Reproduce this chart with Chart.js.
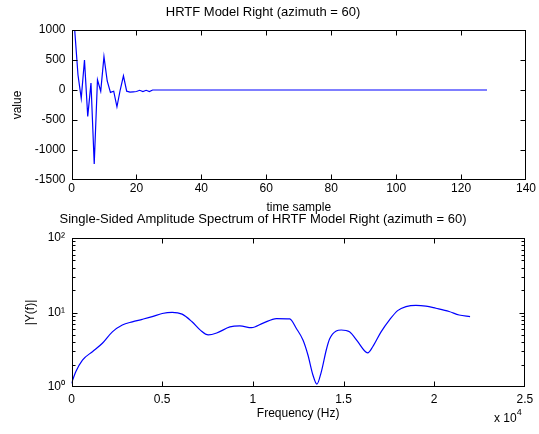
<!DOCTYPE html>
<html><head><meta charset="utf-8">
<script src="https://cdn.jsdelivr.net/npm/chart.js@4/dist/chart.umd.min.js"></script>
<style>
html,body{margin:0;padding:0;background:#fff;}
body{width:539px;height:434px;overflow:hidden;position:relative;font-family:"Liberation Sans",Arial,sans-serif;}
.box{position:absolute;left:0;width:539px;}
#mult{position:absolute;left:494px;top:409px;font-size:12px;color:#000;white-space:nowrap;}
#mult sup{font-size:9px;position:relative;top:-2px;}
</style></head>
<body>
<div class="box" style="top:0;height:217px"><canvas id="c1" width="539" height="217"></canvas></div>
<div class="box" style="top:205px;height:229px"><canvas id="c2" width="539" height="229"></canvas></div>
<div id="mult">x 10<sup>4</sup></div>
<script>
// ---- Top chart: impulse response (time sample 1..128) ----
const impulseValues = [990, 250, -140, 500, -440, 115, -1235, 170, -20, 557,
  150, -40, -20, -280, 0, 237, -20, -35, -30, -25,
  -5, -25, -5, -25, 0, 0, 0, 0, 0, 0,
  0, 0, 0, 0, 0, 0, 0, 0, 0, 0,
  0, 0, 0, 0, 0, 0, 0, 0, 0, 0,
  0, 0, 0, 0, 0, 0, 0, 0, 0, 0,
  0, 0, 0, 0, 0, 0, 0, 0, 0, 0,
  0, 0, 0, 0, 0, 0, 0, 0, 0, 0,
  0, 0, 0, 0, 0, 0, 0, 0, 0, 0,
  0, 0, 0, 0, 0, 0, 0, 0, 0, 0,
  0, 0, 0, 0, 0, 0, 0, 0, 0, 0,
  0, 0, 0, 0, 0, 0, 0, 0, 0, 0,
  0, 0, 0, 0, 0, 0, 0, 0];
const topXTicks = [0, 20, 40, 60, 80, 100, 120, 140];
const topYTicks = [-1500, -1000, -500, 0, 500, 1000];

// ---- Bottom chart: single-sided amplitude spectrum ----
const freqHz = [0, 236, 604, 1154, 1703, 2253, 2802, 3352, 3901, 4451,
  5000, 5549, 6099, 6648, 7104, 7544, 8005, 8736, 9286, 9929,
  10566, 11302, 12033, 12400, 12764, 13038, 13313, 13533, 13775, 14049,
  14231, 14599, 14874, 15330, 15786, 16154, 16335, 16610, 17071, 17527,
  17984, 18445, 18995, 19544, 20093, 20824, 21374, 21978];
const amplitude = [1.12, 1.6, 2.3, 2.98, 3.86, 5.5, 6.8, 7.5, 8.1, 8.8,
  9.7, 10.05, 9.5, 7.5, 5.8, 5.0, 5.3, 6.4, 6.6, 6.25,
  7.2, 8.3, 8.2, 6.1, 4.27, 2.69, 1.45, 1.09, 1.6, 3.14,
  4.4, 5.65, 5.82, 5.5, 4.05, 3.07, 2.88, 3.47, 5.5, 7.9,
  10.6, 12.0, 12.5, 12.2, 11.4, 10.3, 9.25, 8.8];
const bottomXTickValues = [0, 5000, 10000, 15000, 20000, 25000];
const bottomXTickLabels = ['0', '0.5', '1', '1.5', '2', '2.5'];
const bottomYMajor = [1, 10, 100];
const bottomYTickLabels = ['10\u2070', '10\u00B9', '10\u00B2'];

Chart.defaults.font.family = '"Liberation Sans", Arial, sans-serif';
Chart.defaults.font.size = 12;
Chart.defaults.color = '#000';

const boxTicks = {
  id: 'boxTicks',
  afterDraw(chart) {
    const {ctx, chartArea: a, scales} = chart;
    ctx.save();
    ctx.strokeStyle = '#000';
    ctx.lineWidth = 1;
    const L = Math.round(a.left) + 0.5, R = Math.round(a.right) - 0.5;
    const T = Math.round(a.top) + 0.5, B = Math.round(a.bottom) - 0.5;
    ctx.strokeRect(L, T, R - L, B - T);
    ctx.beginPath();
    scales.x.ticks.forEach(t => {
      const px = Math.round(scales.x.getPixelForValue(t.value)) + 0.5;
      if (px <= L + 1 || px >= R - 1) return;
      ctx.moveTo(px, B); ctx.lineTo(px, B - 5);
      ctx.moveTo(px, T); ctx.lineTo(px, T + 5);
    });
    const isLog = scales.y.type === 'logarithmic';
    scales.y.ticks.forEach(t => {
      const py = Math.round(scales.y.getPixelForValue(t.value)) + 0.5;
      if (py <= T + 1 || py >= B - 1) return;
      let len = 5;
      if (isLog && !bottomYMajor.includes(t.value)) len = 3;
      ctx.moveTo(L, py); ctx.lineTo(L + len, py);
      ctx.moveTo(R, py); ctx.lineTo(R - len, py);
    });
    ctx.stroke();
    ctx.restore();
  }
};

new Chart(document.getElementById('c1'), {
  type: 'line',
  data: {
    datasets: [{
      data: impulseValues.map((v, i) => ({x: i + 1, y: v})),
      borderColor: '#0000ff', borderWidth: 1.2, pointRadius: 0, tension: 0, fill: false
    }]
  },
  options: {
    responsive: false, animation: false, devicePixelRatio: 1,
    layout: {padding: {left: 0, right: 13, top: 0, bottom: 0}},
    plugins: {
      legend: {display: false}, tooltip: {enabled: false},
      title: {display: true, text: 'HRTF Model Right (azimuth = 60)', color: '#000',
        font: {size: 13, weight: 'normal'}, padding: {top: 5, bottom: 9.4}}
    },
    scales: {
      x: {
        type: 'linear', min: 0, max: 140,
        afterBuildTicks: s => { s.ticks = topXTicks.map(v => ({value: v})); },
        ticks: {padding: 1.3, maxRotation: 0, autoSkip: false, color: '#000', callback: v => String(v)},
        grid: {display: false, drawTicks: false}, border: {display: false},
        title: {display: true, text: 'time sample', color: '#000', font: {size: 12}, padding: {top: 0, bottom: 1.8}},
        afterFit: s => { s.height = 37; }
      },
      y: {
        type: 'linear', min: -1500, max: 1000,
        afterBuildTicks: s => { s.ticks = topYTicks.map(v => ({value: v})); },
        ticks: {padding: 6, color: '#000', callback: v => String(v)},
        grid: {display: false, drawTicks: false}, border: {display: false},
        title: {display: true, text: 'value', color: '#000', font: {size: 12}, padding: {top: 10.8, bottom: 0}},
        afterFit: s => { s.width = 71.5; }
      }
    }
  },
  plugins: [boxTicks]
});

new Chart(document.getElementById('c2'), {
  type: 'line',
  data: {
    datasets: [{
      data: freqHz.map((f, i) => ({x: f, y: amplitude[i]})),
      borderColor: '#0000ff', borderWidth: 1.2, pointRadius: 0,
      cubicInterpolationMode: 'monotone', fill: false
    }]
  },
  options: {
    responsive: false, animation: false, devicePixelRatio: 1,
    layout: {padding: {left: 0, right: 13, top: 0, bottom: 0}},
    plugins: {
      legend: {display: false}, tooltip: {enabled: false},
      title: {display: true, text: 'Single-Sided Amplitude Spectrum of HRTF Model Right (azimuth = 60)', color: '#000',
        font: {size: 13, weight: 'normal'}, padding: {top: 6.2, bottom: 11.2}}
    },
    scales: {
      x: {
        type: 'linear', min: 0, max: 25000,
        afterBuildTicks: s => { s.ticks = bottomXTickValues.map(v => ({value: v})); },
        ticks: {padding: 5.8, maxRotation: 0, autoSkip: false, color: '#000',
          callback: v => { const i = bottomXTickValues.indexOf(v); return i >= 0 ? bottomXTickLabels[i] : ''; }},
        grid: {display: false, drawTicks: false}, border: {display: false},
        title: {display: true, text: 'Frequency (Hz)', color: '#000', font: {size: 12}, padding: {top: 0, bottom: 12.8}},
        afterFit: s => { s.height = 47; }
      },
      y: {
        type: 'logarithmic', min: 1, max: 100,
        afterBuildTicks: s => {
          const t = [];
          [1, 10].forEach(d => { for (let m = 1; m < 10; m++) t.push({value: m * d}); });
          t.push({value: 100});
          s.ticks = t;
        },
        ticks: {padding: 6.5, autoSkip: false, color: '#000',
          callback: v => { const i = bottomYMajor.indexOf(v); return i >= 0 ? bottomYTickLabels[i] : ''; }},
        grid: {display: false, drawTicks: false}, border: {display: false},
        title: {display: true, text: '|Y(f)|', color: '#000', font: {size: 12}, padding: {top: 23.8, bottom: 0}},
        afterFit: s => { s.width = 71.5; }
      }
    }
  },
  plugins: [boxTicks]
});
</script>
</body></html>
